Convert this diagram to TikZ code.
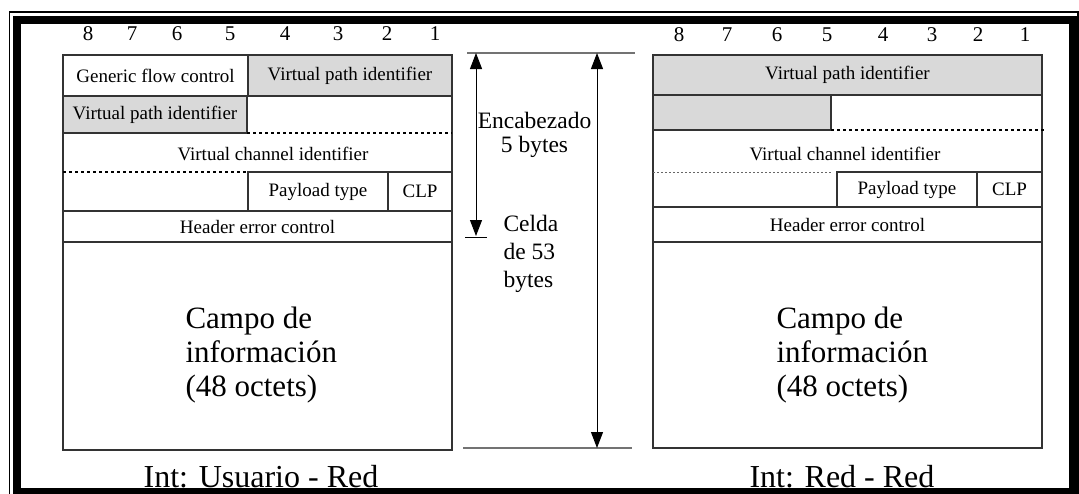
\documentclass[tikz,border=0pt]{standalone}
\usepackage{fontspec}
\setmainfont{Liberation Serif}
\usetikzlibrary{arrows.meta,shapes}

\begin{document}
\begin{tikzpicture}[x=1pt,y=-1pt,
  cell/.style={draw=black!80,line width=1.3pt,inner sep=0pt,outer sep=0pt,font=\fontsize{19}{22}\selectfont},
  vpcell/.style={cell,fill=black!15},
  bitnum/.style={font=\fontsize{21}{24}\selectfont,anchor=base},
  bigtext/.style={font=\fontsize{31}{34}\selectfont,align=left,anchor=base west},
  midtext/.style={font=\fontsize{23.5}{28}\selectfont},
  bigdots/.style={line width=2.6pt,dash pattern=on 2.6pt off 3.4pt},
  thindots/.style={black!60,line width=1pt,dash pattern=on 1.6pt off 2.4pt},
  span/.style={>={Triangle[length=16pt,width=12pt]},<->,line width=1pt},
  limit/.style={black!55,line width=1.2pt}]

\useasboundingbox (0,0) rectangle (1079,493);
\clip (0,0) rectangle (1079,493);

% frame
\draw[line width=1.5pt] (9.5,12) rectangle (1078,505);
\draw[line width=8pt] (17,19.5) rectangle (1072.5,492);

% left cell: Int: Usuario - Red
\foreach \b/\xx in {8/88,7/132,6/177,5/230,4/285,3/338,2/387,1/435}
  \node[bitnum] (bitL\b) at (\xx,40) {\b};

\node (gfcL) at (155.5,75.5)[cell,minimum width=185pt,minimum height=41pt] {Generic flow control};
\node (vpiL1) at (350,75.5)[vpcell,minimum width=204pt,minimum height=41pt] {Virtual path identifier};
\node (vpiL2) at (155,114.5)[vpcell,minimum width=184pt,minimum height=37pt] {Virtual path identifier};
\node (vciL) at (273,154)[font=\fontsize{19}{22}\selectfont] {Virtual channel identifier};
\node (ptL) at (318,191.5)[cell,minimum width=140pt,minimum height=39pt] {Payload type};
\node (clpL) at (420,191.5)[cell,minimum width=64pt,minimum height=39pt] {CLP};
\node (hecL) at (257.5,226.5)[cell,minimum width=389pt,minimum height=31pt] {Header error control};
\node (infoL) at (257.5,346)[cell,minimum width=389pt,minimum height=208pt] {};
\node (campoL) at (182,396)[bigtext] {Campo de\\información\\(48 octets)};
\node (intL) at (261,487)[font=\fontsize{32}{36}\selectfont,anchor=base] {Int: Usuario - Red};
\draw[black!80,line width=1.3pt] (vpiL1.south east) -- (clpL.north east);
\draw[black!80,line width=1.3pt] (vpiL2.south west) -- (hecL.north west);
\draw[bigdots] (vpiL2.south east) -- (vpiL1.south east |- vpiL2.south);
\draw[bigdots] (hecL.north west |- ptL.north) -- (ptL.north west);

% middle: header and cell length
\coordinate (topA) at (467,53);
\coordinate (topB) at (635,53);
\coordinate (botA) at (463,448);
\coordinate (botB) at (632,448);
\coordinate (encTop) at (476,53);
\coordinate (encBot) at (476,236);
\coordinate (tickA) at (465,237);
\coordinate (tickB) at (487,237);
\coordinate (cellTop) at (597,53);
\coordinate (cellBot) at (597,448);
\draw[limit] (topA) -- (topB);
\draw[limit] (botA) -- (botB);
\draw[line width=1pt] (tickA) -- (tickB);
\draw[span] (encTop) -- (encBot);
\draw[span] (cellTop) -- (cellBot);
\node (enc) at (534.5,152)[midtext,align=center,anchor=base,font=\fontsize{23.5}{24}\selectfont] {Encabezado\\5 bytes};
\node (celda) at (500,287)[midtext,align=left,anchor=base west] {Celda\\de 53\\bytes};

% right cell: Int: Red - Red
\foreach \b/\xx in {8/679,7/727,6/777,5/827,4/883,3/932,2/978,1/1025}
  \node[bitnum] (bitR\b) at (\xx,41) {\b};

\node (vpiR1) at (847.5,75)[vpcell,minimum width=389pt,minimum height=40pt] {Virtual path identifier};
\node (vpiR2) at (742,112.5)[vpcell,minimum width=178pt,minimum height=35pt] {};
\node (vciR) at (845,154)[font=\fontsize{19}{22}\selectfont] {Virtual channel identifier};
\node (ptR) at (907,189.5)[cell,minimum width=140pt,minimum height=35pt] {Payload type};
\node (clpR) at (1009.5,189.5)[cell,minimum width=65pt,minimum height=35pt] {CLP};
\node (hecR) at (847.5,224.5)[cell,minimum width=389pt,minimum height=35pt] {Header error control};
\node (infoR) at (847.5,345)[cell,minimum width=389pt,minimum height=206pt] {};
\node (campoR) at (773,396)[bigtext] {Campo de\\información\\(48 octets)};
\node (intR) at (842,487)[font=\fontsize{32}{36}\selectfont,anchor=base] {Int: Red - Red};
\draw[black!80,line width=1.3pt] (vpiR1.south east) -- (clpR.north east);
\draw[black!80,line width=1.3pt] (vpiR2.south west) -- (hecR.north west);
\draw[bigdots] (vpiR2.south east) -- ([xshift=3pt]vpiR1.south east |- vpiR2.south);
\draw[thindots] (hecR.north west |- ptR.north) -- (vpiR2.south east |- ptR.north);
\end{tikzpicture}
\end{document}
